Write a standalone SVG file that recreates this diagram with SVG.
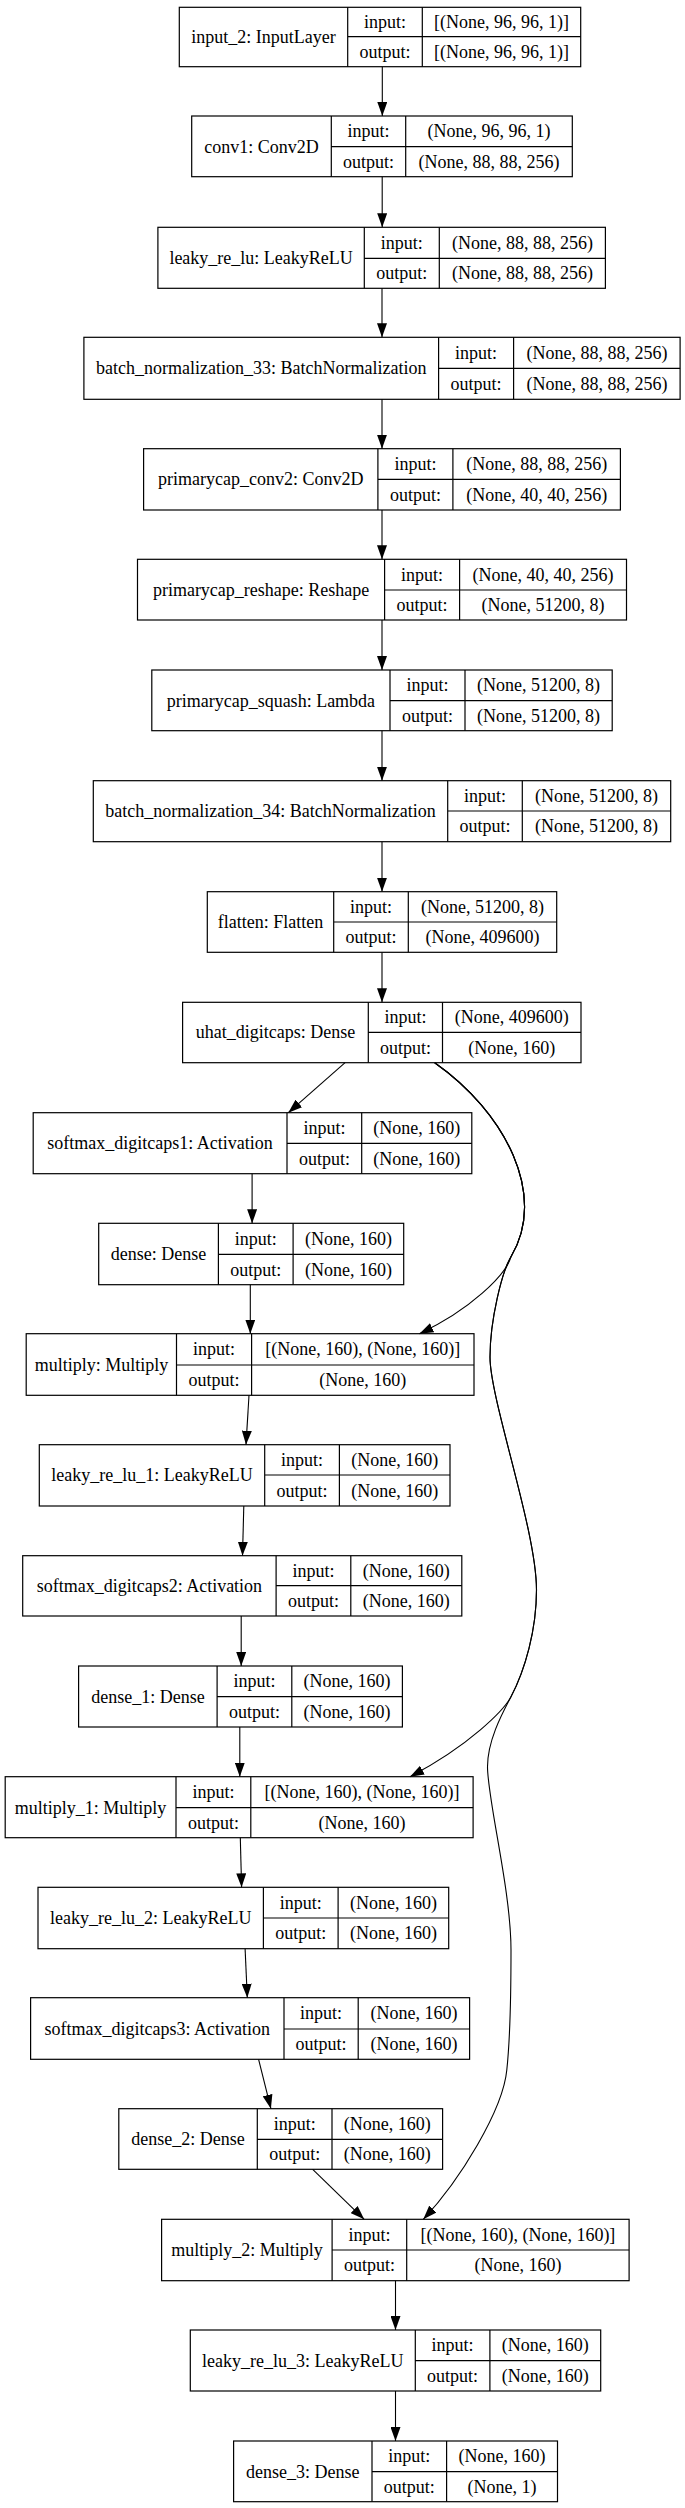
<svg xmlns="http://www.w3.org/2000/svg" width="685" height="2508" viewBox="0 0 685 2508">
<style>
.b{fill:none;stroke:#000;stroke-width:1.2}
.t{font-family:"Liberation Serif","Times New Roman",serif;font-size:18px;text-anchor:middle;fill:#000}
.e{fill:none;stroke:#000;stroke-width:1.1;marker-end:url(#ah)}
</style>
<defs>
<marker id="ah" viewBox="0 0 14 10" refX="14" refY="5" markerWidth="14" markerHeight="10" orient="auto" markerUnits="userSpaceOnUse"><path d="M0,0 L14,5 L0,10 z" fill="#000"/></marker>
</defs>
<rect width="685" height="2508" fill="#fff"/>
<g id="connectors">
<path class="e" d="M382.3,66.7 V116"/>
<path class="e" d="M382.2,176.7 V227.3"/>
<path class="e" d="M382,288.3 V337.3"/>
<path class="e" d="M382,399.3 V448.7"/>
<path class="e" d="M382,510 V559.3"/>
<path class="e" d="M382,620 V670"/>
<path class="e" d="M382,730.7 V780.7"/>
<path class="e" d="M382,841.7 V891.7"/>
<path class="e" d="M382,952.3 V1002.3"/>
<path class="e" d="M345.1,1062.7 L288.3,1112.7"/>
<path class="e" d="M252.1,1173.7 V1223.3"/>
<path class="e" d="M250.3,1284.7 V1333.7"/>
<path class="e" d="M249,1395.3 L246,1444.7"/>
<path class="e" d="M243.8,1506 L242.5,1555.7"/>
<path class="e" d="M241.2,1616 V1666"/>
<path class="e" d="M239.8,1727 V1776.7"/>
<path class="e" d="M240.3,1837.7 L241.6,1887.3"/>
<path class="e" d="M245.1,1948.7 L247.3,1997.7"/>
<path class="e" d="M258.6,2059.3 L270.9,2108.7"/>
<path class="e" d="M312.7,2169.3 L364.2,2219.3"/>
<path class="e" d="M395.5,2280.7 V2330"/>
<path class="e" d="M395.5,2391 V2441"/>
<path class="e" d="M434.7,1062.7 C505,1112 548,1195 511,1256.7 C506,1275 470,1310 419.4,1333.7"/>
<path class="e" d="M434.7,1062.7 C505,1112 548,1195 511,1256.7 C502,1271.7 490,1320 490,1357 C490,1400 536.5,1530 536.5,1590 C536.5,1630 525,1670 511,1696.7 C504,1710 470,1745 410,1776.7"/>
<path class="e" d="M434.7,1062.7 C505,1112 548,1195 511,1256.7 C502,1271.7 490,1320 490,1357 C490,1400 536.5,1530 536.5,1590 C536.5,1630 525,1670 511,1696.7 C503,1712 487.5,1740 487.5,1766.7 C487.5,1800 511,1890 511,1950 C511,1995 510,2040 506.8,2070 C503,2110 460,2180 423.3,2219.3"/>
</g>
<g id="input_2">
<rect class="b" x="179.3" y="7.3" width="401.4" height="59.4"/>
<path class="b" d="M347.7,7.3 V66.7 M422.3,7.3 V66.7 M347.7,36.7 H580.7"/>
<text class="t" x="263.5" y="42.7">input_2: InputLayer</text>
<text class="t" x="385" y="28">input:</text>
<text class="t" x="385" y="57.7">output:</text>
<text class="t" x="501.5" y="28">[(None, 96, 96, 1)]</text>
<text class="t" x="501.5" y="57.7">[(None, 96, 96, 1)]</text>
</g>
<g id="conv1">
<rect class="b" x="191.7" y="116" width="380.6" height="60.7"/>
<path class="b" d="M331.3,116 V176.7 M405.7,116 V176.7 M331.3,146.7 H572.3"/>
<text class="t" x="261.5" y="152.7">conv1: Conv2D</text>
<text class="t" x="368.5" y="137.4">input:</text>
<text class="t" x="368.5" y="167.7">output:</text>
<text class="t" x="489" y="137.4">(None, 96, 96, 1)</text>
<text class="t" x="489" y="167.7">(None, 88, 88, 256)</text>
</g>
<g id="leaky_re_lu">
<rect class="b" x="157.9" y="227.3" width="447.5" height="61"/>
<path class="b" d="M364.3,227.3 V288.3 M439.3,227.3 V288.3 M364.3,258.3 H605.4"/>
<text class="t" x="261.1" y="264.3">leaky_re_lu: LeakyReLU</text>
<text class="t" x="401.8" y="248.8">input:</text>
<text class="t" x="401.8" y="279.3">output:</text>
<text class="t" x="522.4" y="248.8">(None, 88, 88, 256)</text>
<text class="t" x="522.4" y="279.3">(None, 88, 88, 256)</text>
</g>
<g id="batch_normalization_33">
<rect class="b" x="83.9" y="337.3" width="596.2" height="62"/>
<path class="b" d="M438.6,337.3 V399.3 M513.6,337.3 V399.3 M438.6,368.3 H680.1"/>
<text class="t" x="261.3" y="374.3">batch_normalization_33: BatchNormalization</text>
<text class="t" x="476.1" y="358.8">input:</text>
<text class="t" x="476.1" y="389.8">output:</text>
<text class="t" x="596.9" y="358.8">(None, 88, 88, 256)</text>
<text class="t" x="596.9" y="389.8">(None, 88, 88, 256)</text>
</g>
<g id="primarycap_conv2">
<rect class="b" x="143.6" y="448.7" width="476.8" height="61.3"/>
<path class="b" d="M377.9,448.7 V510 M452.9,448.7 V510 M377.9,479.3 H620.4"/>
<text class="t" x="260.8" y="485.3">primarycap_conv2: Conv2D</text>
<text class="t" x="415.4" y="470">input:</text>
<text class="t" x="415.4" y="500.7">output:</text>
<text class="t" x="536.7" y="470">(None, 88, 88, 256)</text>
<text class="t" x="536.7" y="500.7">(None, 40, 40, 256)</text>
</g>
<g id="primarycap_reshape">
<rect class="b" x="137.5" y="559.3" width="489" height="60.7"/>
<path class="b" d="M384.6,559.3 V620 M459.6,559.3 V620 M384.6,590 H626.5"/>
<text class="t" x="261.1" y="596">primarycap_reshape: Reshape</text>
<text class="t" x="422.1" y="580.7">input:</text>
<text class="t" x="422.1" y="611">output:</text>
<text class="t" x="543.1" y="580.7">(None, 40, 40, 256)</text>
<text class="t" x="543.1" y="611">(None, 51200, 8)</text>
</g>
<g id="primarycap_squash">
<rect class="b" x="151.8" y="670" width="460.4" height="60.7"/>
<path class="b" d="M390,670 V730.7 M465,670 V730.7 M390,700.7 H612.2"/>
<text class="t" x="270.9" y="706.7">primarycap_squash: Lambda</text>
<text class="t" x="427.5" y="691.4">input:</text>
<text class="t" x="427.5" y="721.7">output:</text>
<text class="t" x="538.6" y="691.4">(None, 51200, 8)</text>
<text class="t" x="538.6" y="721.7">(None, 51200, 8)</text>
</g>
<g id="batch_normalization_34">
<rect class="b" x="93.3" y="780.7" width="577.4" height="61"/>
<path class="b" d="M447.7,780.7 V841.7 M522.3,780.7 V841.7 M447.7,811 H670.7"/>
<text class="t" x="270.5" y="817">batch_normalization_34: BatchNormalization</text>
<text class="t" x="485" y="801.9">input:</text>
<text class="t" x="485" y="832.4">output:</text>
<text class="t" x="596.5" y="801.9">(None, 51200, 8)</text>
<text class="t" x="596.5" y="832.4">(None, 51200, 8)</text>
</g>
<g id="flatten">
<rect class="b" x="207.3" y="891.7" width="349.4" height="60.6"/>
<path class="b" d="M333.7,891.7 V952.3 M408.3,891.7 V952.3 M333.7,922 H556.7"/>
<text class="t" x="270.5" y="928">flatten: Flatten</text>
<text class="t" x="371" y="912.9">input:</text>
<text class="t" x="371" y="943.2">output:</text>
<text class="t" x="482.5" y="912.9">(None, 51200, 8)</text>
<text class="t" x="482.5" y="943.2">(None, 409600)</text>
</g>
<g id="uhat_digitcaps">
<rect class="b" x="182.6" y="1002.3" width="398.4" height="60.4"/>
<path class="b" d="M368.3,1002.3 V1062.7 M442.5,1002.3 V1062.7 M368.3,1032.3 H581"/>
<text class="t" x="275.5" y="1038.3">uhat_digitcaps: Dense</text>
<text class="t" x="405.4" y="1023.3">input:</text>
<text class="t" x="405.4" y="1053.5">output:</text>
<text class="t" x="511.8" y="1023.3">(None, 409600)</text>
<text class="t" x="511.8" y="1053.5">(None, 160)</text>
</g>
<g id="softmax_digitcaps1">
<rect class="b" x="33.2" y="1112.7" width="438.6" height="61"/>
<path class="b" d="M287,1112.7 V1173.7 M361.7,1112.7 V1173.7 M287,1143.3 H471.8"/>
<text class="t" x="160.1" y="1149.3">softmax_digitcaps1: Activation</text>
<text class="t" x="324.4" y="1134">input:</text>
<text class="t" x="324.4" y="1164.5">output:</text>
<text class="t" x="416.8" y="1134">(None, 160)</text>
<text class="t" x="416.8" y="1164.5">(None, 160)</text>
</g>
<g id="dense">
<rect class="b" x="98.7" y="1223.3" width="305" height="61.4"/>
<path class="b" d="M218.4,1223.3 V1284.7 M293.1,1223.3 V1284.7 M218.4,1254.3 H403.7"/>
<text class="t" x="158.6" y="1260.3">dense: Dense</text>
<text class="t" x="255.8" y="1244.8">input:</text>
<text class="t" x="255.8" y="1275.5">output:</text>
<text class="t" x="348.4" y="1244.8">(None, 160)</text>
<text class="t" x="348.4" y="1275.5">(None, 160)</text>
</g>
<g id="multiply">
<rect class="b" x="26.2" y="1333.7" width="447.8" height="61.6"/>
<path class="b" d="M176.5,1333.7 V1395.3 M251.6,1333.7 V1395.3 M176.5,1365 H474"/>
<text class="t" x="101.4" y="1371">multiply: Multiply</text>
<text class="t" x="214.1" y="1355.4">input:</text>
<text class="t" x="214.1" y="1386.2">output:</text>
<text class="t" x="362.8" y="1355.4">[(None, 160), (None, 160)]</text>
<text class="t" x="362.8" y="1386.2">(None, 160)</text>
</g>
<g id="leaky_re_lu_1">
<rect class="b" x="39.3" y="1444.7" width="410.7" height="61.3"/>
<path class="b" d="M264.7,1444.7 V1506 M339.4,1444.7 V1506 M264.7,1475 H450"/>
<text class="t" x="152" y="1481">leaky_re_lu_1: LeakyReLU</text>
<text class="t" x="302.1" y="1465.9">input:</text>
<text class="t" x="302.1" y="1496.5">output:</text>
<text class="t" x="394.7" y="1465.9">(None, 160)</text>
<text class="t" x="394.7" y="1496.5">(None, 160)</text>
</g>
<g id="softmax_digitcaps2">
<rect class="b" x="22.7" y="1555.7" width="439.1" height="60.3"/>
<path class="b" d="M276.1,1555.7 V1616 M350.8,1555.7 V1616 M276.1,1585.7 H461.8"/>
<text class="t" x="149.4" y="1591.7">softmax_digitcaps2: Activation</text>
<text class="t" x="313.5" y="1576.7">input:</text>
<text class="t" x="313.5" y="1606.9">output:</text>
<text class="t" x="406.3" y="1576.7">(None, 160)</text>
<text class="t" x="406.3" y="1606.9">(None, 160)</text>
</g>
<g id="dense_1">
<rect class="b" x="78.6" y="1666" width="323.8" height="61"/>
<path class="b" d="M217.1,1666 V1727 M291.8,1666 V1727 M217.1,1696.7 H402.4"/>
<text class="t" x="147.9" y="1702.7">dense_1: Dense</text>
<text class="t" x="254.5" y="1687.4">input:</text>
<text class="t" x="254.5" y="1717.9">output:</text>
<text class="t" x="347.1" y="1687.4">(None, 160)</text>
<text class="t" x="347.1" y="1717.9">(None, 160)</text>
</g>
<g id="multiply_1">
<rect class="b" x="5.2" y="1776.7" width="467.9" height="61"/>
<path class="b" d="M176,1776.7 V1837.7 M250.8,1776.7 V1837.7 M176,1807.7 H473.1"/>
<text class="t" x="90.6" y="1813.7">multiply_1: Multiply</text>
<text class="t" x="213.4" y="1798.2">input:</text>
<text class="t" x="213.4" y="1828.7">output:</text>
<text class="t" x="362" y="1798.2">[(None, 160), (None, 160)]</text>
<text class="t" x="362" y="1828.7">(None, 160)</text>
</g>
<g id="leaky_re_lu_2">
<rect class="b" x="38" y="1887.3" width="410.7" height="61.4"/>
<path class="b" d="M263.4,1887.3 V1948.7 M338.1,1887.3 V1948.7 M263.4,1918 H448.7"/>
<text class="t" x="150.7" y="1924">leaky_re_lu_2: LeakyReLU</text>
<text class="t" x="300.8" y="1908.7">input:</text>
<text class="t" x="300.8" y="1939.4">output:</text>
<text class="t" x="393.4" y="1908.7">(None, 160)</text>
<text class="t" x="393.4" y="1939.4">(None, 160)</text>
</g>
<g id="softmax_digitcaps3">
<rect class="b" x="30.6" y="1997.7" width="439" height="61.6"/>
<path class="b" d="M284,1997.7 V2059.3 M358.2,1997.7 V2059.3 M284,2029 H469.6"/>
<text class="t" x="157.3" y="2035">softmax_digitcaps3: Activation</text>
<text class="t" x="321.1" y="2019.4">input:</text>
<text class="t" x="321.1" y="2050.2">output:</text>
<text class="t" x="413.9" y="2019.4">(None, 160)</text>
<text class="t" x="413.9" y="2050.2">(None, 160)</text>
</g>
<g id="dense_2">
<rect class="b" x="118.8" y="2108.7" width="323.8" height="60.6"/>
<path class="b" d="M257.3,2108.7 V2169.3 M332,2108.7 V2169.3 M257.3,2139.3 H442.6"/>
<text class="t" x="188.1" y="2145.3">dense_2: Dense</text>
<text class="t" x="294.7" y="2130">input:</text>
<text class="t" x="294.7" y="2160.3">output:</text>
<text class="t" x="387.3" y="2130">(None, 160)</text>
<text class="t" x="387.3" y="2160.3">(None, 160)</text>
</g>
<g id="multiply_2">
<rect class="b" x="161.6" y="2219.3" width="467.5" height="61.4"/>
<path class="b" d="M332.1,2219.3 V2280.7 M406.7,2219.3 V2280.7 M332.1,2250 H629.1"/>
<text class="t" x="246.9" y="2256">multiply_2: Multiply</text>
<text class="t" x="369.4" y="2240.7">input:</text>
<text class="t" x="369.4" y="2271.4">output:</text>
<text class="t" x="517.9" y="2240.7">[(None, 160), (None, 160)]</text>
<text class="t" x="517.9" y="2271.4">(None, 160)</text>
</g>
<g id="leaky_re_lu_3">
<rect class="b" x="190.3" y="2330" width="410.4" height="61"/>
<path class="b" d="M415.3,2330 V2391 M489.9,2330 V2391 M415.3,2360.7 H600.7"/>
<text class="t" x="302.8" y="2366.7">leaky_re_lu_3: LeakyReLU</text>
<text class="t" x="452.6" y="2351.4">input:</text>
<text class="t" x="452.6" y="2381.9">output:</text>
<text class="t" x="545.3" y="2351.4">(None, 160)</text>
<text class="t" x="545.3" y="2381.9">(None, 160)</text>
</g>
<g id="dense_3">
<rect class="b" x="233.6" y="2441" width="323.9" height="60.7"/>
<path class="b" d="M372,2441 V2501.7 M446.6,2441 V2501.7 M372,2471.7 H557.5"/>
<text class="t" x="302.8" y="2477.7">dense_3: Dense</text>
<text class="t" x="409.3" y="2462.4">input:</text>
<text class="t" x="409.3" y="2492.7">output:</text>
<text class="t" x="502.1" y="2462.4">(None, 160)</text>
<text class="t" x="502.1" y="2492.7">(None, 1)</text>
</g>
</svg>
